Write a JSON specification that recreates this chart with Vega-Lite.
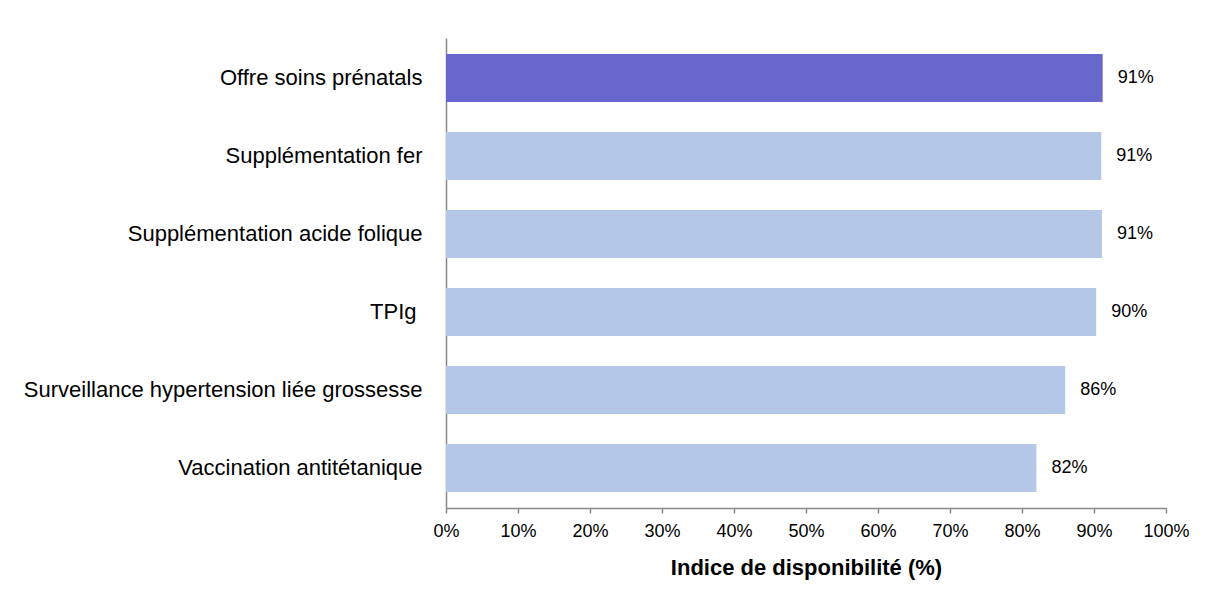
{
  "$schema": "https://vega.github.io/schema/vega-lite/v6.json",
  "width": 720,
  "height": 470,
  "autosize": {"type": "none"},
  "padding": {"left": 446, "top": 38, "right": 48, "bottom": 99},
  "background": "white",
  "config": {
    "view": {"stroke": null},
    "font": "Liberation Sans"
  },
  "data": {
    "values": [
      {"cat": "Offre soins prénatals", "val": 0.912, "hl": "yes"},
      {"cat": "Supplémentation fer", "val": 0.910, "hl": "no"},
      {"cat": "Supplémentation acide folique", "val": 0.911, "hl": "no"},
      {"cat": "TPIg", "val": 0.903, "hl": "no"},
      {"cat": "Surveillance hypertension liée grossesse", "val": 0.860, "hl": "no"},
      {"cat": "Vaccination antitétanique", "val": 0.820, "hl": "no"}
    ]
  },
  "encoding": {
    "y": {
      "field": "cat",
      "type": "nominal",
      "sort": null,
      "scale": {"paddingInner": 0.385, "paddingOuter": 0.205},
      "axis": {
        "title": null,
        "ticks": false,
        "domainColor": "#888888",
        "domainWidth": 1.5,
        "labelFont": "Liberation Sans",
        "labelFontSize": 22,
        "labelColor": "#000000",
        "labelPadding": {"condition": {"test": "datum.value === 'TPIg'", "value": 30}, "value": 24},
        "labelLimit": 500
      }
    },
    "x": {
      "field": "val",
      "type": "quantitative",
      "scale": {"domain": [0, 1], "nice": false},
      "axis": {
        "title": "Indice de disponibilité (%)",
        "format": ".0%",
        "values": [0, 0.1, 0.2, 0.3, 0.4, 0.5, 0.6, 0.7, 0.8, 0.9, 1],
        "grid": false,
        "labelFlush": false,
        "labelOverlap": false,
        "domainColor": "#888888",
        "domainWidth": 1.5,
        "tickColor": "#888888",
        "tickWidth": 1.5,
        "tickSize": 5,
        "labelFont": "Liberation Sans",
        "labelFontSize": 18,
        "labelColor": "#000000",
        "labelPadding": 9,
        "titleFont": "Liberation Sans",
        "titleFontSize": 22,
        "titleFontWeight": "bold",
        "titleColor": "#000000",
        "titlePadding": 17
      }
    }
  },
  "layer": [
    {
      "mark": {"type": "bar"},
      "encoding": {
        "color": {
          "field": "hl",
          "type": "nominal",
          "scale": {"domain": ["yes", "no"], "range": ["#6666CC", "#B4C7E7"]},
          "legend": null
        }
      }
    },
    {
      "mark": {"type": "text", "align": "left", "dx": 15, "font": "Liberation Sans", "fontSize": 18, "color": "#000000"},
      "encoding": {
        "text": {"field": "val", "type": "quantitative", "format": ".0%"}
      }
    }
  ]
}
